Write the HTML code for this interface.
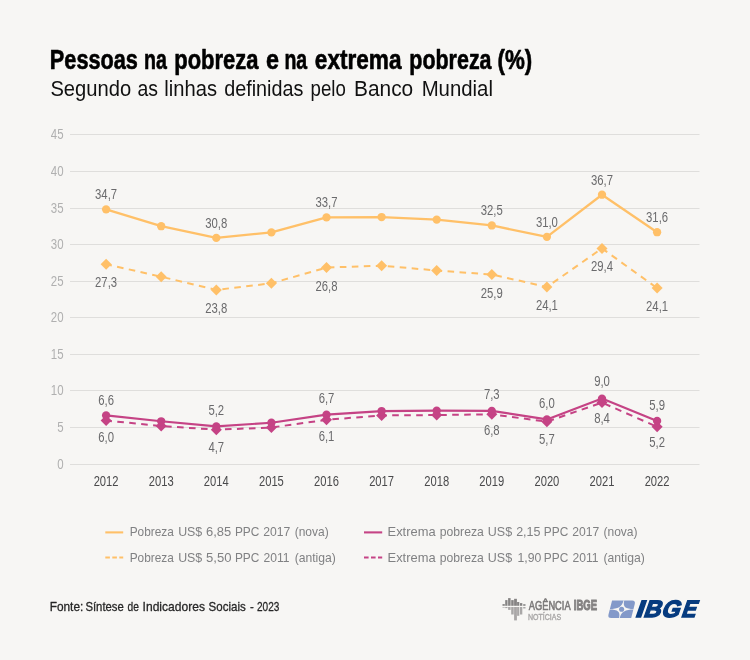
<!DOCTYPE html>
<html lang="pt-BR"><head><meta charset="utf-8"><title>Pessoas na pobreza e na extrema pobreza (%)</title>
<style>html,body{margin:0;padding:0;background:#f7f6f4}body{width:750px;height:660px;overflow:hidden}svg{display:block}text{font-family:"Liberation Sans",sans-serif}</style>
</head><body>
<svg width="750" height="660" viewBox="0 0 750 660">
<rect width="750" height="660" fill="#f7f6f4"/>
<text y="68.70" font-size="26.90" fill="#000" font-weight="bold" stroke="#000" stroke-width="0.60" stroke-linejoin="round"><tspan x="49.85" textLength="88.04" lengthAdjust="spacingAndGlyphs">Pessoas</tspan> <tspan x="144.01" textLength="22.87" lengthAdjust="spacingAndGlyphs">na</tspan> <tspan x="174.25" textLength="84.31" lengthAdjust="spacingAndGlyphs">pobreza</tspan> <tspan x="266.09" textLength="13.01" lengthAdjust="spacingAndGlyphs">e</tspan> <tspan x="284.41" textLength="22.76" lengthAdjust="spacingAndGlyphs">na</tspan> <tspan x="314.82" textLength="86.74" lengthAdjust="spacingAndGlyphs">extrema</tspan> <tspan x="409.29" textLength="82.28" lengthAdjust="spacingAndGlyphs">pobreza</tspan> <tspan x="497.59" textLength="34.72" lengthAdjust="spacingAndGlyphs">(%)</tspan></text>
<text y="95.70" font-size="22.80" fill="#111"><tspan x="50.38" textLength="80.76" lengthAdjust="spacingAndGlyphs">Segundo</tspan> <tspan x="137.47" textLength="20.53" lengthAdjust="spacingAndGlyphs">as</tspan> <tspan x="164.34" textLength="52.69" lengthAdjust="spacingAndGlyphs">linhas</tspan> <tspan x="224.17" textLength="79.25" lengthAdjust="spacingAndGlyphs">definidas</tspan> <tspan x="310.50" textLength="35.29" lengthAdjust="spacingAndGlyphs">pelo</tspan> <tspan x="353.99" textLength="59.19" lengthAdjust="spacingAndGlyphs">Banco</tspan> <tspan x="421.63" textLength="71.33" lengthAdjust="spacingAndGlyphs">Mundial</tspan></text>
<line x1="70" x2="699.5" y1="464.50" y2="464.50" stroke="#dfdedc" stroke-width="1"/>
<text x="63.60" y="468.70" font-size="14.80" fill="#b0b0b0" text-anchor="end" textLength="6.38" lengthAdjust="spacingAndGlyphs">0</text>
<line x1="70" x2="699.5" y1="427.50" y2="427.50" stroke="#dfdedc" stroke-width="1"/>
<text x="63.60" y="431.70" font-size="14.80" fill="#b0b0b0" text-anchor="end" textLength="6.38" lengthAdjust="spacingAndGlyphs">5</text>
<line x1="70" x2="699.5" y1="390.50" y2="390.50" stroke="#dfdedc" stroke-width="1"/>
<text x="63.60" y="394.70" font-size="14.80" fill="#b0b0b0" text-anchor="end" textLength="12.76" lengthAdjust="spacingAndGlyphs">10</text>
<line x1="70" x2="699.5" y1="354.50" y2="354.50" stroke="#dfdedc" stroke-width="1"/>
<text x="63.60" y="358.70" font-size="14.80" fill="#b0b0b0" text-anchor="end" textLength="12.76" lengthAdjust="spacingAndGlyphs">15</text>
<line x1="70" x2="699.5" y1="317.50" y2="317.50" stroke="#dfdedc" stroke-width="1"/>
<text x="63.60" y="321.70" font-size="14.80" fill="#b0b0b0" text-anchor="end" textLength="12.76" lengthAdjust="spacingAndGlyphs">20</text>
<line x1="70" x2="699.5" y1="281.50" y2="281.50" stroke="#dfdedc" stroke-width="1"/>
<text x="63.60" y="285.70" font-size="14.80" fill="#b0b0b0" text-anchor="end" textLength="12.76" lengthAdjust="spacingAndGlyphs">25</text>
<line x1="70" x2="699.5" y1="244.50" y2="244.50" stroke="#dfdedc" stroke-width="1"/>
<text x="63.60" y="248.70" font-size="14.80" fill="#b0b0b0" text-anchor="end" textLength="12.76" lengthAdjust="spacingAndGlyphs">30</text>
<line x1="70" x2="699.5" y1="208.50" y2="208.50" stroke="#dfdedc" stroke-width="1"/>
<text x="63.60" y="212.70" font-size="14.80" fill="#b0b0b0" text-anchor="end" textLength="12.76" lengthAdjust="spacingAndGlyphs">35</text>
<line x1="70" x2="699.5" y1="171.50" y2="171.50" stroke="#dfdedc" stroke-width="1"/>
<text x="63.60" y="175.70" font-size="14.80" fill="#b0b0b0" text-anchor="end" textLength="12.76" lengthAdjust="spacingAndGlyphs">40</text>
<line x1="70" x2="699.5" y1="134.50" y2="134.50" stroke="#dfdedc" stroke-width="1"/>
<text x="63.60" y="138.70" font-size="14.80" fill="#b0b0b0" text-anchor="end" textLength="12.76" lengthAdjust="spacingAndGlyphs">45</text>
<text x="106.10" y="486.00" font-size="15.00" fill="#4a4a4c" text-anchor="middle" textLength="24.90" lengthAdjust="spacingAndGlyphs">2012</text>
<text x="161.20" y="486.00" font-size="15.00" fill="#4a4a4c" text-anchor="middle" textLength="24.90" lengthAdjust="spacingAndGlyphs">2013</text>
<text x="216.30" y="486.00" font-size="15.00" fill="#4a4a4c" text-anchor="middle" textLength="24.90" lengthAdjust="spacingAndGlyphs">2014</text>
<text x="271.40" y="486.00" font-size="15.00" fill="#4a4a4c" text-anchor="middle" textLength="24.90" lengthAdjust="spacingAndGlyphs">2015</text>
<text x="326.50" y="486.00" font-size="15.00" fill="#4a4a4c" text-anchor="middle" textLength="24.90" lengthAdjust="spacingAndGlyphs">2016</text>
<text x="381.60" y="486.00" font-size="15.00" fill="#4a4a4c" text-anchor="middle" textLength="24.90" lengthAdjust="spacingAndGlyphs">2017</text>
<text x="436.70" y="486.00" font-size="15.00" fill="#4a4a4c" text-anchor="middle" textLength="24.90" lengthAdjust="spacingAndGlyphs">2018</text>
<text x="491.80" y="486.00" font-size="15.00" fill="#4a4a4c" text-anchor="middle" textLength="24.90" lengthAdjust="spacingAndGlyphs">2019</text>
<text x="546.90" y="486.00" font-size="15.00" fill="#4a4a4c" text-anchor="middle" textLength="24.90" lengthAdjust="spacingAndGlyphs">2020</text>
<text x="602.00" y="486.00" font-size="15.00" fill="#4a4a4c" text-anchor="middle" textLength="24.90" lengthAdjust="spacingAndGlyphs">2021</text>
<text x="657.10" y="486.00" font-size="15.00" fill="#4a4a4c" text-anchor="middle" textLength="24.90" lengthAdjust="spacingAndGlyphs">2022</text>
<polyline points="106.10,264.26 161.20,276.71 216.30,289.88 271.40,283.30 326.50,267.56 381.60,265.73 436.70,270.49 491.80,274.51 546.90,286.96 602.00,248.38 657.10,288.05" fill="none" stroke="#ffc068" stroke-width="2.00" stroke-linejoin="round" stroke-dasharray="6.6 5.4" stroke-dashoffset="0.75"/>
<path d="M106.10 258.76L111.60 264.26L106.10 269.76L100.60 264.26Z" fill="#ffc068"/>
<path d="M161.20 271.21L166.70 276.71L161.20 282.21L155.70 276.71Z" fill="#ffc068"/>
<path d="M216.30 284.38L221.80 289.88L216.30 295.38L210.80 289.88Z" fill="#ffc068"/>
<path d="M271.40 277.80L276.90 283.30L271.40 288.80L265.90 283.30Z" fill="#ffc068"/>
<path d="M326.50 262.06L332.00 267.56L326.50 273.06L321.00 267.56Z" fill="#ffc068"/>
<path d="M381.60 260.23L387.10 265.73L381.60 271.23L376.10 265.73Z" fill="#ffc068"/>
<path d="M436.70 264.99L442.20 270.49L436.70 275.99L431.20 270.49Z" fill="#ffc068"/>
<path d="M491.80 269.01L497.30 274.51L491.80 280.01L486.30 274.51Z" fill="#ffc068"/>
<path d="M546.90 281.46L552.40 286.96L546.90 292.46L541.40 286.96Z" fill="#ffc068"/>
<path d="M602.00 242.88L607.50 248.38L602.00 253.88L596.50 248.38Z" fill="#ffc068"/>
<path d="M657.10 282.55L662.60 288.05L657.10 293.55L651.60 288.05Z" fill="#ffc068"/>
<polyline points="106.10,209.36 161.20,226.20 216.30,237.91 271.40,232.42 326.50,217.42 381.60,217.05 436.70,219.61 491.80,225.47 546.90,236.81 602.00,194.72 657.10,232.20" fill="none" stroke="#ffc068" stroke-width="2.30" stroke-linejoin="round"/>
<circle cx="106.10" cy="209.36" r="4.15" fill="#ffc068"/>
<circle cx="161.20" cy="226.20" r="4.15" fill="#ffc068"/>
<circle cx="216.30" cy="237.91" r="4.15" fill="#ffc068"/>
<circle cx="271.40" cy="232.42" r="4.15" fill="#ffc068"/>
<circle cx="326.50" cy="217.42" r="4.15" fill="#ffc068"/>
<circle cx="381.60" cy="217.05" r="4.15" fill="#ffc068"/>
<circle cx="436.70" cy="219.61" r="4.15" fill="#ffc068"/>
<circle cx="491.80" cy="225.47" r="4.15" fill="#ffc068"/>
<circle cx="546.90" cy="236.81" r="4.15" fill="#ffc068"/>
<circle cx="602.00" cy="194.72" r="4.15" fill="#ffc068"/>
<circle cx="657.10" cy="232.20" r="4.15" fill="#ffc068"/>
<polyline points="106.10,420.55 161.20,426.04 216.30,429.70 271.40,427.50 326.50,419.81 381.60,415.42 436.70,415.06 491.80,414.32 546.90,421.64 602.00,402.61 657.10,426.77" fill="none" stroke="#c54385" stroke-width="2.00" stroke-linejoin="round" stroke-dasharray="6.6 5.4" stroke-dashoffset="0.75"/>
<path d="M106.10 415.05L111.60 420.55L106.10 426.05L100.60 420.55Z" fill="#c54385"/>
<path d="M161.20 420.54L166.70 426.04L161.20 431.54L155.70 426.04Z" fill="#c54385"/>
<path d="M216.30 424.20L221.80 429.70L216.30 435.20L210.80 429.70Z" fill="#c54385"/>
<path d="M271.40 422.00L276.90 427.50L271.40 433.00L265.90 427.50Z" fill="#c54385"/>
<path d="M326.50 414.31L332.00 419.81L326.50 425.31L321.00 419.81Z" fill="#c54385"/>
<path d="M381.60 409.92L387.10 415.42L381.60 420.92L376.10 415.42Z" fill="#c54385"/>
<path d="M436.70 409.56L442.20 415.06L436.70 420.56L431.20 415.06Z" fill="#c54385"/>
<path d="M491.80 408.82L497.30 414.32L491.80 419.82L486.30 414.32Z" fill="#c54385"/>
<path d="M546.90 416.14L552.40 421.64L546.90 427.14L541.40 421.64Z" fill="#c54385"/>
<path d="M602.00 397.11L607.50 402.61L602.00 408.11L596.50 402.61Z" fill="#c54385"/>
<path d="M657.10 421.27L662.60 426.77L657.10 432.27L651.60 426.77Z" fill="#c54385"/>
<polyline points="106.10,415.42 161.20,421.28 216.30,426.40 271.40,422.74 326.50,414.69 381.60,411.03 436.70,410.66 491.80,410.88 546.90,419.45 602.00,398.59 657.10,420.91" fill="none" stroke="#c54385" stroke-width="2.20" stroke-linejoin="round"/>
<circle cx="106.10" cy="415.42" r="4.15" fill="#c54385"/>
<circle cx="161.20" cy="421.28" r="4.15" fill="#c54385"/>
<circle cx="216.30" cy="426.40" r="4.15" fill="#c54385"/>
<circle cx="271.40" cy="422.74" r="4.15" fill="#c54385"/>
<circle cx="326.50" cy="414.69" r="4.15" fill="#c54385"/>
<circle cx="381.60" cy="411.03" r="4.15" fill="#c54385"/>
<circle cx="436.70" cy="410.66" r="4.15" fill="#c54385"/>
<circle cx="491.80" cy="410.88" r="4.15" fill="#c54385"/>
<circle cx="546.90" cy="419.45" r="4.15" fill="#c54385"/>
<circle cx="602.00" cy="398.59" r="4.15" fill="#c54385"/>
<circle cx="657.10" cy="420.91" r="4.15" fill="#c54385"/>
<text x="106.10" y="199.26" font-size="14.60" fill="#6a6a6c" text-anchor="middle" textLength="22.02" lengthAdjust="spacingAndGlyphs">34,7</text>
<text x="216.30" y="227.81" font-size="14.60" fill="#6a6a6c" text-anchor="middle" textLength="22.02" lengthAdjust="spacingAndGlyphs">30,8</text>
<text x="326.50" y="207.32" font-size="14.60" fill="#6a6a6c" text-anchor="middle" textLength="22.02" lengthAdjust="spacingAndGlyphs">33,7</text>
<text x="491.80" y="215.37" font-size="14.60" fill="#6a6a6c" text-anchor="middle" textLength="22.02" lengthAdjust="spacingAndGlyphs">32,5</text>
<text x="546.90" y="226.71" font-size="14.60" fill="#6a6a6c" text-anchor="middle" textLength="22.02" lengthAdjust="spacingAndGlyphs">31,0</text>
<text x="602.00" y="184.62" font-size="14.60" fill="#6a6a6c" text-anchor="middle" textLength="22.02" lengthAdjust="spacingAndGlyphs">36,7</text>
<text x="657.10" y="221.60" font-size="14.60" fill="#6a6a6c" text-anchor="middle" textLength="22.02" lengthAdjust="spacingAndGlyphs">31,6</text>
<text x="106.10" y="287.26" font-size="14.60" fill="#6a6a6c" text-anchor="middle" textLength="22.02" lengthAdjust="spacingAndGlyphs">27,3</text>
<text x="216.30" y="312.88" font-size="14.60" fill="#6a6a6c" text-anchor="middle" textLength="22.02" lengthAdjust="spacingAndGlyphs">23,8</text>
<text x="326.50" y="290.56" font-size="14.60" fill="#6a6a6c" text-anchor="middle" textLength="22.02" lengthAdjust="spacingAndGlyphs">26,8</text>
<text x="491.80" y="297.51" font-size="14.60" fill="#6a6a6c" text-anchor="middle" textLength="22.02" lengthAdjust="spacingAndGlyphs">25,9</text>
<text x="546.90" y="309.96" font-size="14.60" fill="#6a6a6c" text-anchor="middle" textLength="22.02" lengthAdjust="spacingAndGlyphs">24,1</text>
<text x="602.00" y="271.38" font-size="14.60" fill="#6a6a6c" text-anchor="middle" textLength="22.02" lengthAdjust="spacingAndGlyphs">29,4</text>
<text x="657.10" y="311.05" font-size="14.60" fill="#6a6a6c" text-anchor="middle" textLength="22.02" lengthAdjust="spacingAndGlyphs">24,1</text>
<text x="106.10" y="404.52" font-size="14.60" fill="#6a6a6c" text-anchor="middle" textLength="15.73" lengthAdjust="spacingAndGlyphs">6,6</text>
<text x="216.30" y="414.60" font-size="14.60" fill="#6a6a6c" text-anchor="middle" textLength="15.73" lengthAdjust="spacingAndGlyphs">5,2</text>
<text x="326.50" y="403.09" font-size="14.60" fill="#6a6a6c" text-anchor="middle" textLength="15.73" lengthAdjust="spacingAndGlyphs">6,7</text>
<text x="491.80" y="398.88" font-size="14.60" fill="#6a6a6c" text-anchor="middle" textLength="15.73" lengthAdjust="spacingAndGlyphs">7,3</text>
<text x="546.90" y="408.05" font-size="14.60" fill="#6a6a6c" text-anchor="middle" textLength="15.73" lengthAdjust="spacingAndGlyphs">6,0</text>
<text x="602.00" y="386.09" font-size="14.60" fill="#6a6a6c" text-anchor="middle" textLength="15.73" lengthAdjust="spacingAndGlyphs">9,0</text>
<text x="657.10" y="409.61" font-size="14.60" fill="#6a6a6c" text-anchor="middle" textLength="15.73" lengthAdjust="spacingAndGlyphs">5,9</text>
<text x="106.10" y="441.65" font-size="14.60" fill="#6a6a6c" text-anchor="middle" textLength="15.73" lengthAdjust="spacingAndGlyphs">6,0</text>
<text x="216.30" y="451.50" font-size="14.60" fill="#6a6a6c" text-anchor="middle" textLength="15.73" lengthAdjust="spacingAndGlyphs">4,7</text>
<text x="326.50" y="440.91" font-size="14.60" fill="#6a6a6c" text-anchor="middle" textLength="15.73" lengthAdjust="spacingAndGlyphs">6,1</text>
<text x="491.80" y="435.42" font-size="14.60" fill="#6a6a6c" text-anchor="middle" textLength="15.73" lengthAdjust="spacingAndGlyphs">6,8</text>
<text x="546.90" y="443.54" font-size="14.60" fill="#6a6a6c" text-anchor="middle" textLength="15.73" lengthAdjust="spacingAndGlyphs">5,7</text>
<text x="602.00" y="423.11" font-size="14.60" fill="#6a6a6c" text-anchor="middle" textLength="15.73" lengthAdjust="spacingAndGlyphs">8,4</text>
<text x="657.10" y="447.37" font-size="14.60" fill="#6a6a6c" text-anchor="middle" textLength="15.73" lengthAdjust="spacingAndGlyphs">5,2</text>
<line x1="105.3" x2="123.2" y1="532.4" y2="532.4" stroke="#ffc068" stroke-width="2.1"/>
<line x1="105.3" x2="123.2" y1="557.5" y2="557.5" stroke="#ffc068" stroke-width="2.1" stroke-dasharray="4.6 2.4"/>
<line x1="364" x2="382.2" y1="532.4" y2="532.4" stroke="#c54385" stroke-width="2.1"/>
<line x1="364" x2="382.2" y1="557.5" y2="557.5" stroke="#c54385" stroke-width="2.1" stroke-dasharray="4.6 2.4"/>
<text y="536.40" font-size="13.60" fill="#808183"><tspan x="129.63" textLength="44.17" lengthAdjust="spacingAndGlyphs">Pobreza</tspan> <tspan x="178.14" textLength="24.16" lengthAdjust="spacingAndGlyphs">US$</tspan> <tspan x="205.94" textLength="25.20" lengthAdjust="spacingAndGlyphs">6,85</tspan> <tspan x="234.93" textLength="24.43" lengthAdjust="spacingAndGlyphs">PPC</tspan> <tspan x="263.29" textLength="27.13" lengthAdjust="spacingAndGlyphs">2017</tspan> <tspan x="294.66" textLength="33.99" lengthAdjust="spacingAndGlyphs">(nova)</tspan></text>
<text y="561.60" font-size="13.60" fill="#808183"><tspan x="129.63" textLength="44.17" lengthAdjust="spacingAndGlyphs">Pobreza</tspan> <tspan x="178.14" textLength="24.16" lengthAdjust="spacingAndGlyphs">US$</tspan> <tspan x="206.08" textLength="25.43" lengthAdjust="spacingAndGlyphs">5,50</tspan> <tspan x="234.93" textLength="24.43" lengthAdjust="spacingAndGlyphs">PPC</tspan> <tspan x="263.59" textLength="26.00" lengthAdjust="spacingAndGlyphs">2011</tspan> <tspan x="294.65" textLength="41.21" lengthAdjust="spacingAndGlyphs">(antiga)</tspan></text>
<text y="536.40" font-size="13.60" fill="#808183"><tspan x="387.54" textLength="48.06" lengthAdjust="spacingAndGlyphs">Extrema</tspan> <tspan x="439.82" textLength="43.98" lengthAdjust="spacingAndGlyphs">pobreza</tspan> <tspan x="487.83" textLength="24.37" lengthAdjust="spacingAndGlyphs">US$</tspan> <tspan x="516.17" textLength="24.35" lengthAdjust="spacingAndGlyphs">2,15</tspan> <tspan x="543.83" textLength="24.43" lengthAdjust="spacingAndGlyphs">PPC</tspan> <tspan x="572.19" textLength="27.02" lengthAdjust="spacingAndGlyphs">2017</tspan> <tspan x="603.45" textLength="34.09" lengthAdjust="spacingAndGlyphs">(nova)</tspan></text>
<text y="561.60" font-size="13.60" fill="#808183"><tspan x="387.54" textLength="48.06" lengthAdjust="spacingAndGlyphs">Extrema</tspan> <tspan x="439.82" textLength="43.98" lengthAdjust="spacingAndGlyphs">pobreza</tspan> <tspan x="487.83" textLength="24.37" lengthAdjust="spacingAndGlyphs">US$</tspan> <tspan x="517.47" textLength="23.81" lengthAdjust="spacingAndGlyphs">1,90</tspan> <tspan x="543.83" textLength="24.43" lengthAdjust="spacingAndGlyphs">PPC</tspan> <tspan x="572.49" textLength="26.00" lengthAdjust="spacingAndGlyphs">2011</tspan> <tspan x="603.44" textLength="41.31" lengthAdjust="spacingAndGlyphs">(antiga)</tspan></text>
<text y="610.90" font-size="13.60" fill="#262626" stroke="#262626" stroke-width="0.30" stroke-linejoin="round"><tspan x="49.63" textLength="33.66" lengthAdjust="spacingAndGlyphs">Fonte:</tspan> <tspan x="85.39" textLength="38.42" lengthAdjust="spacingAndGlyphs">Síntese</tspan> <tspan x="127.57" textLength="11.38" lengthAdjust="spacingAndGlyphs">de</tspan> <tspan x="142.59" textLength="62.35" lengthAdjust="spacingAndGlyphs">Indicadores</tspan> <tspan x="208.58" textLength="37.14" lengthAdjust="spacingAndGlyphs">Sociais</tspan> <tspan x="250.09" textLength="3.82" lengthAdjust="spacingAndGlyphs">-</tspan> <tspan x="256.99" textLength="22.35" lengthAdjust="spacingAndGlyphs">2023</tspan></text>
<g id="agencia">
<rect x="502.50" y="604.10" width="2.30" height="1.70" fill="#868484"/>
<rect x="502.50" y="607.00" width="2.30" height="0.60" fill="#a9a7a7"/>
<rect x="505.20" y="600.10" width="2.30" height="5.70" fill="#868484"/>
<rect x="505.20" y="607.00" width="2.30" height="1.10" fill="#a9a7a7"/>
<rect x="508.10" y="598.10" width="2.50" height="7.70" fill="#868484"/>
<rect x="508.10" y="607.00" width="2.50" height="2.90" fill="#a9a7a7"/>
<rect x="511.20" y="600.10" width="2.50" height="5.70" fill="#868484"/>
<rect x="511.20" y="607.00" width="2.50" height="7.50" fill="#a9a7a7"/>
<rect x="514.10" y="598.80" width="2.80" height="7.00" fill="#868484"/>
<rect x="514.10" y="607.00" width="2.80" height="13.40" fill="#a9a7a7"/>
<rect x="517.10" y="602.00" width="2.20" height="3.80" fill="#868484"/>
<rect x="517.10" y="607.00" width="2.20" height="8.80" fill="#a9a7a7"/>
<rect x="520.00" y="603.10" width="2.30" height="2.70" fill="#868484"/>
<rect x="520.00" y="607.00" width="2.30" height="7.50" fill="#a9a7a7"/>
<rect x="523.20" y="604.20" width="2.30" height="1.60" fill="#868484"/>
<rect x="523.20" y="607.00" width="2.30" height="1.50" fill="#a9a7a7"/>
<text y="610.40" font-size="13.20" fill="#7b7979" stroke="#7b7979" stroke-width="0.65" stroke-linejoin="round"><tspan x="528.78" textLength="41.84" lengthAdjust="spacingAndGlyphs">AGÊNCIA</tspan></text>
<text y="610.40" font-size="13.90" fill="#848282" font-weight="bold" stroke="#848282" stroke-width="1.00" stroke-linejoin="round"><tspan x="573.77" textLength="23.21" lengthAdjust="spacingAndGlyphs">IBGE</tspan></text>
<text y="620.00" font-size="9.20" fill="#a8a6a6" stroke="#a8a6a6" stroke-width="0.40" stroke-linejoin="round"><tspan x="528.03" textLength="33.10" lengthAdjust="spacingAndGlyphs">NOTÍCIAS</tspan></text>
</g>
<g id="ibge">
<path d="M612.07 600.60 L632.17 600.60 Q635.67 600.60 634.77 604.10 L631.20 618.00 L611.10 618.00 Q607.60 618.00 608.50 614.50 Z" fill="#8399c9"/>
<path d="M624.29 600.20 C622.57 606.90 625.32 608.98 633.92 608.98 L633.75 609.62 C625.15 609.62 621.34 611.70 619.62 618.40 L618.98 618.40 C620.70 611.70 617.95 609.62 609.35 609.62 L609.52 608.98 C618.12 608.98 621.93 606.90 623.65 600.20 Z" fill="#f7f6f4"/>
<circle cx="621.63" cy="609.30" r="2.55" fill="#8399c9"/>
<g transform="translate(0 617.9) skewX(-19.4)" font-weight="bold" fill="#063b7f" stroke="#063b7f" stroke-width="1.40" stroke-linejoin="miter">
<text y="-0.70" font-size="23.55"><tspan x="634.20" textLength="7.91" lengthAdjust="spacingAndGlyphs">I</tspan><tspan x="642.43" textLength="16.93" lengthAdjust="spacingAndGlyphs">B</tspan><tspan x="660.15" textLength="18.10" lengthAdjust="spacingAndGlyphs">G</tspan><tspan x="680.16" textLength="14.39" lengthAdjust="spacingAndGlyphs">E</tspan></text>
</g>
</g>
</svg>
</body></html>
